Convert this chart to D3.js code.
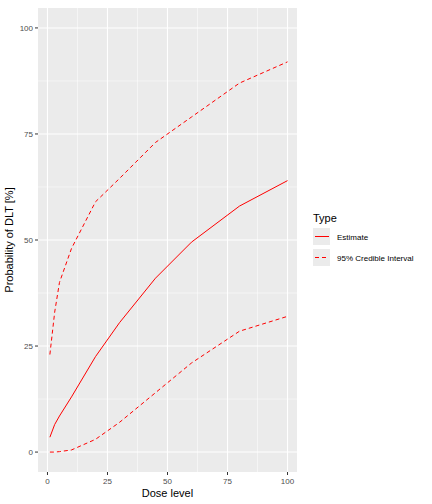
<!DOCTYPE html>
<html><head><meta charset="utf-8">
<script src="https://cdn.jsdelivr.net/npm/d3@7"></script>
<style>body{margin:0;background:#fff}text{font-family:"Liberation Sans",Arial,sans-serif}</style>
</head><body><svg id="c" width="432" height="504"></svg>
<script>
var doses = [1, 3, 5, 10, 20, 30, 45, 60, 80, 100];
var estimate = [3.5, 6.5, 8.5, 13, 22.5, 30.5, 41, 49.5, 58, 64];
var upper = [23, 33, 40, 48, 59, 64.5, 73, 79, 87, 92];
var lower = [0, 0, 0.1, 0.5, 3, 7, 14, 21, 28.5, 32];
var xTicks = [0, 25, 50, 75, 100];
var yTicks = [0, 25, 50, 75, 100];

var svg = d3.select("#c");
var L = 38, R = 297, T = 8, B = 472;
var x = d3.scale ? null : null;
x = d3.scaleLinear().domain([-3.95, 103.95]).range([L, R]);
var y = d3.scaleLinear().domain([-4.7, 104.7]).range([B, T]);

svg.append("rect").attr("x", L).attr("y", T).attr("width", R - L).attr("height", B - T).attr("fill", "#ebebeb");
var minor = function(t){ var m=[]; for (var i=0;i<t.length-1;i++) m.push((t[i]+t[i+1])/2); return m; };
minor(xTicks).forEach(function(v){ svg.append("line").attr("x1",x(v)).attr("x2",x(v)).attr("y1",T).attr("y2",B).attr("stroke","#fff").attr("stroke-width",0.5); });
minor(yTicks).forEach(function(v){ svg.append("line").attr("y1",y(v)).attr("y2",y(v)).attr("x1",L).attr("x2",R).attr("stroke","#fff").attr("stroke-width",0.5); });
xTicks.forEach(function(v){
    svg.append("line").attr("x1",x(v)).attr("x2",x(v)).attr("y1",T).attr("y2",B).attr("stroke","#fff").attr("stroke-width",1.1);
    svg.append("line").attr("x1",x(v)).attr("x2",x(v)).attr("y1",B).attr("y2",B+3).attr("stroke","#333");
    svg.append("text").attr("x",x(v)).attr("y",B+12).attr("text-anchor","middle").attr("font-size",8).attr("fill","#4d4d4d").text(v);
});
yTicks.forEach(function(v){
    svg.append("line").attr("y1",y(v)).attr("y2",y(v)).attr("x1",L).attr("x2",R).attr("stroke","#fff").attr("stroke-width",1.1);
    svg.append("line").attr("y1",y(v)).attr("y2",y(v)).attr("x1",L-3).attr("x2",L).attr("stroke","#333");
    svg.append("text").attr("x",L-5).attr("y",y(v)+3).attr("text-anchor","end").attr("font-size",8).attr("fill","#4d4d4d").text(v);
});

var line = d3.line().x(function(d){ return x(d[0]); }).y(function(d){ return y(d[1]); });
[[estimate, null], [upper, "4,3"], [lower, "4,3"]].forEach(function(s){
    svg.append("path").datum(d3.zip(doses, s[0])).attr("d", line).attr("fill","none")
        .attr("stroke","red").attr("stroke-width",1).attr("stroke-dasharray", s[1]);
});

svg.append("text").attr("x",(L+R)/2).attr("y",497).attr("text-anchor","middle").attr("font-size",11).text("Dose level");
svg.append("text").attr("transform","translate(13,"+((T+B)/2)+") rotate(-90)").attr("text-anchor","middle").attr("font-size",11).text("Probability of DLT [%]");

svg.append("text").attr("x",313).attr("y",222).attr("font-size",11).text("Type");
[["Estimate", null], ["95% Credible Interval", "4,3"]].forEach(function(k, i){
    var yy = 228 + i * 21;
    svg.append("rect").attr("x",313).attr("y",yy).attr("width",17).attr("height",17).attr("fill","#ebebeb");
    svg.append("line").attr("x1",315).attr("x2",329).attr("y1",yy+8.5).attr("y2",yy+8.5).attr("stroke","red").attr("stroke-dasharray",k[1]);
    svg.append("text").attr("x",337).attr("y",yy+11.5).attr("font-size",8).text(k[0]);
});
</script></body></html>
